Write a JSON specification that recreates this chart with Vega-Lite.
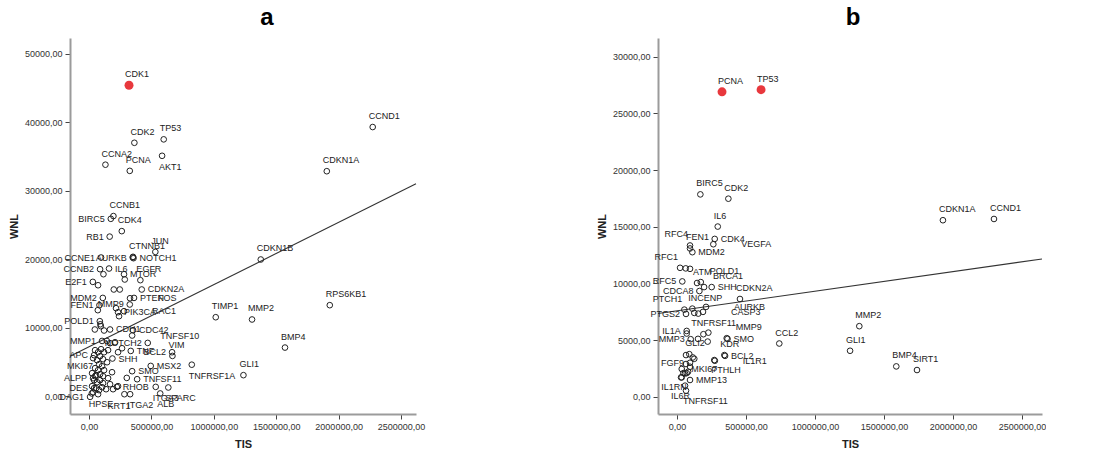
{
  "$schema": "https://vega.github.io/schema/vega-lite/v6.json",
  "background": "white",
  "padding": {"left": 8, "top": 6, "right": 0, "bottom": 0},
  "bounds": "flush",
  "spacing": 242,
  "config": {
    "view": {"stroke": null},
    "font": "Liberation Sans",
    "axis": {"grid": false, "domainColor": "#9b9b9b", "domainWidth": 2, "tickColor": "#444", "tickSize": 5, "labelFont": "Liberation Sans", "labelFontSize": 9, "labelColor": "#333", "titleFont": "Liberation Sans", "titleFontSize": 11, "titleFontWeight": "bold", "titleColor": "#222", "labelPadding": 3},
    "axisY": {"titlePadding": 5},
    "axisX": {"titlePadding": 7},
    "text": {"font": "Liberation Sans", "fontSize": 9, "color": "#222"}
  },
  "datasets": {
    "a": [
      {"gene":"CDK1","TIS":320000,"WNL":45400},
      {"gene":"CDK2","TIS":363000,"WNL":37000},
      {"gene":"TP53","TIS":598000,"WNL":37500},
      {"gene":"CCNA2","TIS":131000,"WNL":33800},
      {"gene":"PCNA","TIS":326000,"WNL":32900},
      {"gene":"AKT1","TIS":585000,"WNL":35100},
      {"gene":"CCND1","TIS":2273000,"WNL":39300},
      {"gene":"CDKN1A","TIS":1905000,"WNL":32850},
      {"gene":"CDKN1B","TIS":1376000,"WNL":19960},
      {"gene":"RPS6KB1","TIS":1929000,"WNL":13290},
      {"gene":"TIMP1","TIS":1015000,"WNL":11530},
      {"gene":"MMP2","TIS":1306000,"WNL":11200},
      {"gene":"BMP4","TIS":1570000,"WNL":7100},
      {"gene":"GLI1","TIS":1237000,"WNL":3070},
      {"gene":"CCNB1","TIS":195000,"WNL":26300},
      {"gene":"BIRC5","TIS":174000,"WNL":25900},
      {"gene":"CDK4","TIS":262000,"WNL":24100},
      {"gene":"RB1","TIS":165000,"WNL":23300},
      {"gene":"JUN","TIS":531000,"WNL":21070},
      {"gene":"AURKB","TIS":350000,"WNL":20250},
      {"gene":"CTNNB1","TIS":352000,"WNL":20350},
      {"gene":"NOTCH1","TIS":356000,"WNL":20150},
      {"gene":"CCNE1","TIS":96000,"WNL":20250},
      {"gene":"CCNB2","TIS":88000,"WNL":18540},
      {"gene":"IL6","TIS":160000,"WNL":18640},
      {"gene":"MTOR","TIS":280000,"WNL":17810},
      {"gene":"EGFR","TIS":411000,"WNL":16940},
      {"gene":"E2F1","TIS":30000,"WNL":16690},
      {"gene":"CDKN2A","TIS":422000,"WNL":15580},
      {"gene":"MDM2","TIS":110000,"WNL":14350},
      {"gene":"MMP9","TIS":326000,"WNL":13390},
      {"gene":"PTEN","TIS":360000,"WNL":14350},
      {"gene":"FOS","TIS":328000,"WNL":14300},
      {"gene":"FEN1","TIS":83000,"WNL":13290},
      {"gene":"PIK3CA","TIS":232000,"WNL":12260},
      {"gene":"RAC1","TIS":280000,"WNL":12410},
      {"gene":"POLD1","TIS":86000,"WNL":10950},
      {"gene":"CDH1","TIS":168000,"WNL":9740},
      {"gene":"CDC42","TIS":352000,"WNL":9640},
      {"gene":"TNFSF10","TIS":345000,"WNL":8860},
      {"gene":"MMP1","TIS":104000,"WNL":8070},
      {"gene":"NOTCH2","TIS":470000,"WNL":7780},
      {"gene":"VIM","TIS":668000,"WNL":5880},
      {"gene":"BCL2","TIS":665000,"WNL":6420},
      {"gene":"TNF","TIS":334000,"WNL":6610},
      {"gene":"SHH","TIS":187000,"WNL":5500},
      {"gene":"APC","TIS":40000,"WNL":5990},
      {"gene":"MSX2","TIS":494000,"WNL":4420},
      {"gene":"TNFRSF1A","TIS":823000,"WNL":4600},
      {"gene":"SMO","TIS":345000,"WNL":3650},
      {"gene":"TNFSF11","TIS":385000,"WNL":2480},
      {"gene":"RHOB","TIS":222000,"WNL":1360},
      {"gene":"ITGA3","TIS":534000,"WNL":1360},
      {"gene":"SPARC","TIS":635000,"WNL":1270},
      {"gene":"ALB","TIS":570000,"WNL":400},
      {"gene":"KRT1","TIS":283000,"WNL":290},
      {"gene":"ITGA2","TIS":329000,"WNL":290},
      {"gene":"HPSE","TIS":22000,"WNL":400},
      {"gene":"DAG1","TIS":8000,"WNL":-100},
      {"gene":"DES","TIS":40000,"WNL":1170},
      {"gene":"ALPP","TIS":32000,"WNL":2630},
      {"gene":"MKI67","TIS":48000,"WNL":2920},
      {"gene":"","TIS":48000,"WNL":6720},{"gene":"","TIS":72000,"WNL":6420},{"gene":"","TIS":96000,"WNL":6860},
      {"gene":"","TIS":120000,"WNL":6420},{"gene":"","TIS":152000,"WNL":6720},{"gene":"","TIS":32000,"WNL":5550},
      {"gene":"","TIS":64000,"WNL":5260},{"gene":"","TIS":88000,"WNL":5840},{"gene":"","TIS":112000,"WNL":5400},
      {"gene":"","TIS":144000,"WNL":4960},{"gene":"","TIS":80000,"WNL":4670},{"gene":"","TIS":104000,"WNL":4380},
      {"gene":"","TIS":48000,"WNL":4090},{"gene":"","TIS":72000,"WNL":3800},{"gene":"","TIS":120000,"WNL":3800},
      {"gene":"","TIS":24000,"WNL":3360},{"gene":"","TIS":56000,"WNL":3070},{"gene":"","TIS":88000,"WNL":3210},
      {"gene":"","TIS":112000,"WNL":2920},{"gene":"","TIS":40000,"WNL":2340},{"gene":"","TIS":64000,"WNL":2040},
      {"gene":"","TIS":88000,"WNL":2340},{"gene":"","TIS":112000,"WNL":1900},{"gene":"","TIS":24000,"WNL":1460},
      {"gene":"","TIS":56000,"WNL":1170},{"gene":"","TIS":80000,"WNL":880},{"gene":"","TIS":104000,"WNL":1310},
      {"gene":"","TIS":136000,"WNL":1020},{"gene":"","TIS":32000,"WNL":580},{"gene":"","TIS":72000,"WNL":290},
      {"gene":"","TIS":168000,"WNL":1750},{"gene":"","TIS":192000,"WNL":1020},{"gene":"","TIS":232000,"WNL":1460},
      {"gene":"","TIS":152000,"WNL":2630},{"gene":"","TIS":184000,"WNL":3500},{"gene":"","TIS":115000,"WNL":17810},
      {"gene":"","TIS":286000,"WNL":17040},{"gene":"","TIS":72000,"WNL":16200},{"gene":"","TIS":198000,"WNL":15580},
      {"gene":"","TIS":246000,"WNL":15580},{"gene":"","TIS":70000,"WNL":12560},{"gene":"","TIS":216000,"WNL":12850},
      {"gene":"","TIS":240000,"WNL":11680},{"gene":"","TIS":94000,"WNL":10220},{"gene":"","TIS":90000,"WNL":10500},
      {"gene":"","TIS":142000,"WNL":8070},{"gene":"","TIS":168000,"WNL":7740},{"gene":"","TIS":120000,"WNL":9590},
      {"gene":"","TIS":46000,"WNL":9740},{"gene":"","TIS":302000,"WNL":2670},{"gene":"","TIS":208000,"WNL":7880},
      {"gene":"","TIS":264000,"WNL":7000},{"gene":"","TIS":232000,"WNL":6420}
    ],
    "b": [
      {"gene":"PCNA","TIS":326000,"WNL":26900},
      {"gene":"TP53","TIS":609000,"WNL":27090},
      {"gene":"BIRC5","TIS":169000,"WNL":17850},
      {"gene":"CDK2","TIS":372000,"WNL":17470},
      {"gene":"IL6","TIS":295000,"WNL":15010},
      {"gene":"RFC4","TIS":94000,"WNL":13340},
      {"gene":"FEN1","TIS":94000,"WNL":13080},
      {"gene":"CDK4","TIS":273000,"WNL":13920},
      {"gene":"VEGFA","TIS":263000,"WNL":13450},
      {"gene":"MDM2","TIS":111000,"WNL":12750},
      {"gene":"RFC1","TIS":22000,"WNL":11370},
      {"gene":"","TIS":63000,"WNL":11320},
      {"gene":"","TIS":94000,"WNL":11280},
      {"gene":"POLD1","TIS":172000,"WNL":10110},
      {"gene":"ATM","TIS":145000,"WNL":10030},
      {"gene":"RFC5","TIS":38000,"WNL":10170},
      {"gene":"BRCA1","TIS":196000,"WNL":9670},
      {"gene":"SHH","TIS":251000,"WNL":9670},
      {"gene":"CDCA8","TIS":162000,"WNL":9320},
      {"gene":"CDKN2A","TIS":456000,"WNL":8620},
      {"gene":"PTCH1","TIS":53000,"WNL":7680},
      {"gene":"INCENP","TIS":111000,"WNL":7770},
      {"gene":"AURKB","TIS":210000,"WNL":7920},
      {"gene":"CASP3","TIS":188000,"WNL":7480},
      {"gene":"PTGS2","TIS":65000,"WNL":7300},
      {"gene":"TNFRSF11","TIS":125000,"WNL":7390},
      {"gene":"","TIS":154000,"WNL":7330},
      {"gene":"IL1A","TIS":70000,"WNL":5800},
      {"gene":"","TIS":70000,"WNL":5570},
      {"gene":"MMP9","TIS":360000,"WNL":5160},
      {"gene":"SMO","TIS":366000,"WNL":5100},
      {"gene":"CCL2","TIS":741000,"WNL":4690},
      {"gene":"MMP3","TIS":99000,"WNL":5070},
      {"gene":"","TIS":191000,"WNL":5510},
      {"gene":"","TIS":227000,"WNL":5650},
      {"gene":"","TIS":222000,"WNL":4860},
      {"gene":"","TIS":152000,"WNL":5100},
      {"gene":"GLI2","TIS":89000,"WNL":3750},
      {"gene":"KDR","TIS":343000,"WNL":3670},
      {"gene":"BCL2","TIS":348000,"WNL":3600},
      {"gene":"PTHLH","TIS":270000,"WNL":3230},
      {"gene":"IL1R1","TIS":274000,"WNL":3170},
      {"gene":"FGF9","TIS":94000,"WNL":2990},
      {"gene":"MKI67","TIS":125000,"WNL":3340},
      {"gene":"","TIS":65000,"WNL":3670},{"gene":"","TIS":114000,"WNL":3460},{"gene":"","TIS":65000,"WNL":2880},
      {"gene":"","TIS":34000,"WNL":2440},{"gene":"","TIS":46000,"WNL":2080},{"gene":"","TIS":58000,"WNL":2050},
      {"gene":"","TIS":70000,"WNL":2080},{"gene":"","TIS":29000,"WNL":1700},{"gene":"","TIS":80000,"WNL":2200},
      {"gene":"","TIS":94000,"WNL":2640},
      {"gene":"IL1RN","TIS":34000,"WNL":1700},
      {"gene":"MMP13","TIS":94000,"WNL":1470},
      {"gene":"IL6R","TIS":58000,"WNL":970},
      {"gene":"TNFRSF11","TIS":65000,"WNL":530},
      {"gene":"CDKN1A","TIS":1927000,"WNL":15570},
      {"gene":"CCND1","TIS":2297000,"WNL":15680},
      {"gene":"MMP2","TIS":1321000,"WNL":6220},
      {"gene":"GLI1","TIS":1254000,"WNL":4050},
      {"gene":"BMP4","TIS":1589000,"WNL":2670},
      {"gene":"SIRT1","TIS":1739000,"WNL":2350}
    ],
    "trendA": [{"TIS":-153000,"WNL":5840},{"TIS":2620000,"WNL":31010}],
    "trendB": [{"TIS":-138000,"WNL":7340},{"TIS":2645000,"WNL":12150}]
  },
  "hconcat": [
    {
      "title": {"text": "a", "fontSize": 24, "fontWeight": "bold", "font": "Liberation Sans", "color": "#000", "anchor": "middle", "dx": 24, "offset": 8},
      "width": 346,
      "height": 376,
      "encoding": {
        "x": {"field": "TIS", "type": "quantitative", "scale": {"domain": [-153000, 2620000], "nice": false, "zero": false},
              "axis": {"title": "TIS", "values": [0, 500000, 1000000, 1500000, 2000000, 2500000], "labelExpr": "replace(format(datum.value, '.2f'), '.', ',')"}},
        "y": {"field": "WNL", "type": "quantitative", "scale": {"domain": [-2600, 52300], "nice": false, "zero": false},
              "axis": {"title": "WNL", "values": [0, 10000, 20000, 30000, 40000, 50000], "labelExpr": "replace(format(datum.value, '.2f'), '.', ',')"}}
      },
      "layer": [
        {"data": {"name": "trendA"}, "mark": {"type": "line", "color": "#333", "strokeWidth": 1.1}},
        {"data": {"name": "a"}, "transform": [{"filter": {"not": {"field": "gene", "oneOf": ["CDK1"]}}}],
         "mark": {"type": "point", "shape": "circle", "filled": false, "stroke": "#222", "strokeWidth": 1, "size": 32, "opacity": 1}},
        {"data": {"name": "a"}, "transform": [{"filter": {"field": "gene", "oneOf": ["CDK1"]}}],
         "mark": {"type": "circle", "color": "#e8383d", "size": 80, "opacity": 1}},
        {"data": {"name": "a"}, "transform": [{"filter": {"field": "gene", "oneOf": ["CDK1","CDK2","TP53","CCNA2","PCNA","CCND1","CDKN1A","CDKN1B","RPS6KB1","TIMP1","MMP2","BMP4","GLI1","CCNB1","CDK4","JUN","CTNNB1","EGFR","VIM"]}}],
         "mark": {"type": "text", "align": "left", "baseline": "middle", "dx": -4, "dy": -11}, "encoding": {"text": {"field": "gene"}}},
        {"data": {"name": "a"}, "transform": [{"filter": {"field": "gene", "oneOf": ["BIRC5","RB1","AURKB","CCNE1","CCNB2","E2F1","MDM2","MMP9","FEN1","POLD1","MMP1","NOTCH2","APC","ALPP","DES","DAG1","BCL2"]}}],
         "mark": {"type": "text", "align": "right", "baseline": "middle", "dx": -6, "dy": 0}, "encoding": {"text": {"field": "gene"}}},
        {"data": {"name": "a"}, "transform": [{"filter": {"field": "gene", "oneOf": ["NOTCH1","IL6","MTOR","CDKN2A","PTEN","PIK3CA","CDH1","CDC42","TNF","SHH","MSX2","SMO","RHOB","TNFSF11"]}}],
         "mark": {"type": "text", "align": "left", "baseline": "middle", "dx": 6, "dy": 0}, "encoding": {"text": {"field": "gene"}}},
        {"data": {"name": "a"}, "transform": [{"filter": {"field": "gene", "oneOf": ["TNFSF10","RAC1","FOS"]}}],
         "mark": {"type": "text", "align": "left", "baseline": "middle", "dx": 28, "dy": 0}, "encoding": {"text": {"field": "gene"}}},
        {"data": {"name": "a"}, "transform": [{"filter": {"field": "gene", "oneOf": ["AKT1","TNFRSF1A","ITGA3","SPARC","ALB","HPSE","ITGA2"]}}],
         "mark": {"type": "text", "align": "left", "baseline": "middle", "dx": -3, "dy": 11}, "encoding": {"text": {"field": "gene"}}},
        {"data": {"name": "a"}, "transform": [{"filter": {"field": "gene", "oneOf": ["KRT1"]}}],
         "mark": {"type": "text", "align": "right", "baseline": "middle", "dx": 6, "dy": 12}, "encoding": {"text": {"field": "gene"}}},
        {"data": {"name": "a"}, "transform": [{"filter": {"field": "gene", "oneOf": ["MKI67"]}}],
         "mark": {"type": "text", "align": "right", "baseline": "middle", "dx": -2, "dy": -10}, "encoding": {"text": {"field": "gene"}}},
        {"data": {"values": [{"r2": "R² Linear = 0,138"}]},
         "mark": {"type": "text", "align": "left", "baseline": "middle", "dx": 1, "dy": 6},
         "encoding": {"x": {"datum": 2620000}, "y": {"datum": 52300}, "text": {"field": "r2"}}}
      ]
    },
    {
      "title": {"text": "b", "fontSize": 24, "fontWeight": "bold", "font": "Liberation Sans", "color": "#000", "anchor": "middle", "dx": 3, "offset": 8},
      "width": 384,
      "height": 376,
      "encoding": {
        "x": {"field": "TIS", "type": "quantitative", "scale": {"domain": [-138000, 2645000], "nice": false, "zero": false},
              "axis": {"title": "TIS", "values": [0, 500000, 1000000, 1500000, 2000000, 2500000], "labelExpr": "replace(format(datum.value, '.2f'), '.', ',')"}},
        "y": {"field": "WNL", "type": "quantitative", "scale": {"domain": [-1530, 31650], "nice": false, "zero": false},
              "axis": {"title": "WNL", "values": [0, 5000, 10000, 15000, 20000, 25000, 30000], "labelExpr": "replace(format(datum.value, '.2f'), '.', ',')"}}
      },
      "layer": [
        {"data": {"name": "trendB"}, "mark": {"type": "line", "color": "#333", "strokeWidth": 1.1}},
        {"data": {"name": "b"}, "transform": [{"filter": {"not": {"field": "gene", "oneOf": ["PCNA","TP53"]}}}],
         "mark": {"type": "point", "shape": "circle", "filled": false, "stroke": "#222", "strokeWidth": 1, "size": 32, "opacity": 1}},
        {"data": {"name": "b"}, "transform": [{"filter": {"field": "gene", "oneOf": ["PCNA","TP53"]}}],
         "mark": {"type": "circle", "color": "#e8383d", "size": 80, "opacity": 1}},
        {"data": {"name": "b"}, "transform": [{"filter": {"field": "gene", "oneOf": ["PCNA","TP53","BIRC5","CDK2","IL6","FEN1","ATM","INCENP","GLI2","KDR","CCL2","CDKN2A","CDKN1A","CCND1","MMP2","GLI1","BMP4","SIRT1"]}}],
         "mark": {"type": "text", "align": "left", "baseline": "middle", "dx": -4, "dy": -11}, "encoding": {"text": {"field": "gene"}}},
        {"data": {"name": "b"}, "transform": [{"filter": {"field": "gene", "oneOf": ["RFC4","RFC1","PTCH1"]}}],
         "mark": {"type": "text", "align": "right", "baseline": "middle", "dx": -2, "dy": -11}, "encoding": {"text": {"field": "gene"}}},
        {"data": {"name": "b"}, "transform": [{"filter": {"field": "gene", "oneOf": ["POLD1","BRCA1","MMP9"]}}],
         "mark": {"type": "text", "align": "left", "baseline": "middle", "dx": 9, "dy": -11}, "encoding": {"text": {"field": "gene"}}},
        {"data": {"name": "b"}, "transform": [{"filter": {"field": "gene", "oneOf": ["CDK4","MDM2","SHH","SMO","BCL2","MMP13"]}}],
         "mark": {"type": "text", "align": "left", "baseline": "middle", "dx": 6, "dy": 0}, "encoding": {"text": {"field": "gene"}}},
        {"data": {"name": "b"}, "transform": [{"filter": {"field": "gene", "oneOf": ["VEGFA","AURKB","CASP3","IL1R1"]}}],
         "mark": {"type": "text", "align": "left", "baseline": "middle", "dx": 28, "dy": 0}, "encoding": {"text": {"field": "gene"}}},
        {"data": {"name": "b"}, "transform": [{"filter": {"field": "gene", "oneOf": ["RFC5","CDCA8","PTGS2","IL1A","MMP3","FGF9"]}}],
         "mark": {"type": "text", "align": "right", "baseline": "middle", "dx": -6, "dy": 0}, "encoding": {"text": {"field": "gene"}}},
        {"data": {"name": "b"}, "transform": [{"filter": {"field": "gene", "oneOf": ["TNFRSF11","PTHLH","MKI67"]}}],
         "mark": {"type": "text", "align": "left", "baseline": "middle", "dx": -3, "dy": 10}, "encoding": {"text": {"field": "gene"}}},
        {"data": {"name": "b"}, "transform": [{"filter": {"field": "gene", "oneOf": ["IL1RN","IL6R"]}}],
         "mark": {"type": "text", "align": "right", "baseline": "middle", "dx": 5, "dy": 10}, "encoding": {"text": {"field": "gene"}}},
        {"data": {"values": [{"r2": "R² Linear = 0,021"}]},
         "mark": {"type": "text", "align": "left", "baseline": "middle", "dx": 1, "dy": 6},
         "encoding": {"x": {"datum": 2645000}, "y": {"datum": 31650}, "text": {"field": "r2"}}}
      ]
    }
  ]
}
